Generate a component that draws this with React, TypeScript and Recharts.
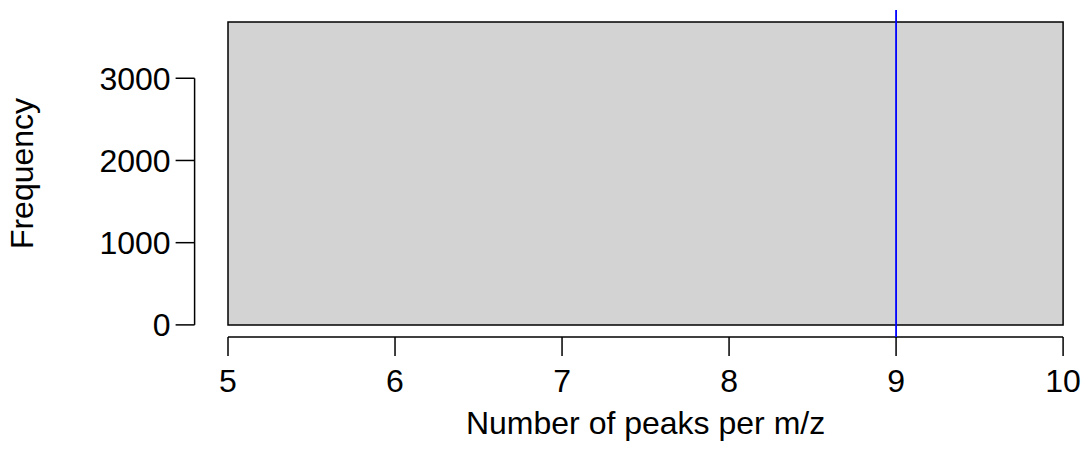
import {
  ComposedChart,
  XAxis,
  YAxis,
  ReferenceArea,
  ReferenceLine,
  Label,
} from "recharts";

// histogram: bin edges and counts
const binEdges = [5, 10];
const binCounts = [3683];
// vertical marker
const markerX = [9];
const xTicks = [5, 6, 7, 8, 9, 10];
const yTicks = [0, 1000, 2000, 3000];

const FONT = "'Liberation Sans', Arial, Helvetica, sans-serif";
const FS = 32;

const bins = binCounts.map((count, i) => ({
  x0: binEdges[i],
  x1: binEdges[i + 1],
  count,
}));

// R style 4% axis extension
const xSpan = binEdges[binEdges.length - 1] - binEdges[0];
const xMin = binEdges[0] - xSpan * 0.04;
const xMax = binEdges[binEdges.length - 1] + xSpan * 0.04;
const yTop = Math.max(...binCounts);
const yMin = -yTop * 0.04;
const yMax = yTop * 1.04;

const chartData = bins.map((b) => ({ x: b.x0, count: b.count }));

export default function App() {
  return (
    <div
      style={{
        position: "absolute",
        left: 0,
        top: 0,
        width: 1084,
        height: 452,
        overflow: "hidden",
        background: "#fff",
      }}
    >
      <ComposedChart
        width={1101.5}
        height={452}
        data={chartData}
        margin={{ top: 10, right: 5, left: 0, bottom: 0 }}
      >
        <XAxis
          type="number"
          dataKey="x"
          domain={[xMin, xMax]}
          ticks={xTicks}
          allowDataOverflow
          axisLine={false}
          tickLine={{ stroke: "#000", strokeWidth: 1.5 }}
          tickSize={19}
          tickMargin={13}
          height={115}
          tick={{ fill: "#000", fontSize: FS, fontFamily: FONT }}
        >
          <Label
            content={({ viewBox }: any) => (
              <text
                x={viewBox.x + viewBox.width / 2}
                y={434}
                textAnchor="middle"
                fontSize={FS}
                fontFamily={FONT}
                fill="#000"
              >
                Number of peaks per m/z
              </text>
            )}
          />
        </XAxis>
        <YAxis
          type="number"
          domain={[yMin, yMax]}
          ticks={yTicks}
          allowDataOverflow
          axisLine={false}
          tickLine={{ stroke: "#000", strokeWidth: 1.5 }}
          tickSize={19}
          tickMargin={5}
          width={194.6}
          tick={{ fill: "#000", fontSize: FS, fontFamily: FONT }}
        >
          <Label
            content={({ viewBox }: any) => {
              const cy = viewBox.y + viewBox.height / 2;
              return (
                <text
                  x={33}
                  y={cy}
                  transform={`rotate(-90, 33, ${cy})`}
                  textAnchor="middle"
                  fontSize={FS}
                  fontFamily={FONT}
                  fill="#000"
                >
                  Frequency
                </text>
              );
            }}
          />
        </YAxis>
        {bins.map((b, i) => (
          <ReferenceArea
            key={i}
            x1={b.x0}
            x2={b.x1}
            y1={0}
            y2={b.count}
            fill="#d3d3d3"
            fillOpacity={1}
            stroke="#000"
            strokeWidth={1.5}
            ifOverflow="visible"
          />
        ))}
        {/* R style axis lines spanning first to last tick */}
        <ReferenceLine
          segment={[
            { x: xTicks[0], y: yMin },
            { x: xTicks[xTicks.length - 1], y: yMin },
          ]}
          stroke="#000"
          strokeWidth={1.5}
          ifOverflow="visible"
        />
        <ReferenceLine
          segment={[
            { x: xMin, y: yTicks[0] },
            { x: xMin, y: yTicks[yTicks.length - 1] },
          ]}
          stroke="#000"
          strokeWidth={1.5}
          ifOverflow="visible"
        />
        {markerX.map((v) => (
          <ReferenceLine
            key={v}
            x={v}
            stroke="#0000ff"
            strokeWidth={1.8}
            ifOverflow="visible"
          />
        ))}
      </ComposedChart>
    </div>
  );
}
